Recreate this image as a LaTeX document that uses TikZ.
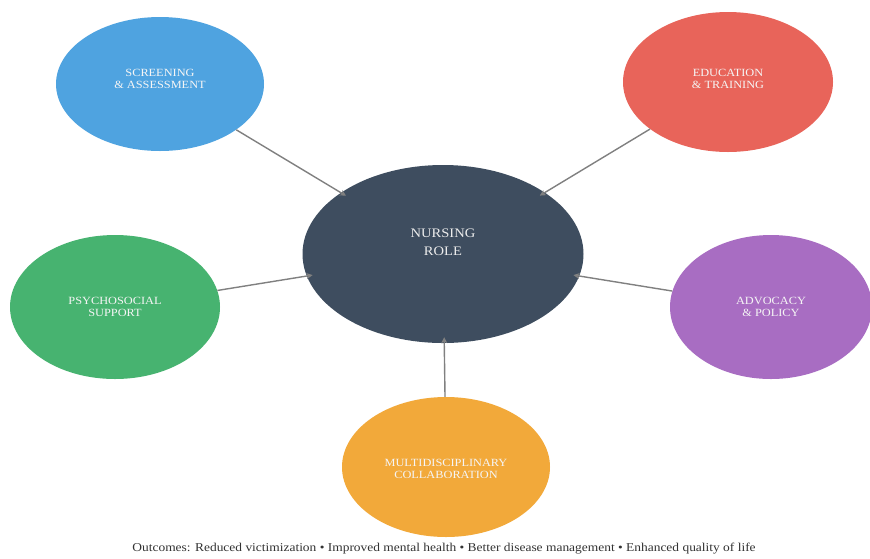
\documentclass[tikz,border=0pt]{standalone}
\usepackage{fontspec}
\setmainfont{Liberation Serif}
\newfontfamily\capfont[FakeStretch=1.12]{Liberation Serif}
\newfontfamily\lblfont[FakeStretch=1.12]{Liberation Serif}
\usetikzlibrary{shapes.geometric,arrows.meta}
\definecolor{cblue}{HTML}{4FA3E0}
\definecolor{cred}{HTML}{E8645A}
\definecolor{cslate}{HTML}{3E4D5F}
\definecolor{cgreen}{HTML}{47B370}
\definecolor{cpurple}{HTML}{A86DC2}
\definecolor{corange}{HTML}{F2A93A}
\definecolor{cline}{HTML}{808080}
\tikzset{
  bubble/.style={ellipse, inner sep=0pt},
  txt/.style={text=white!92!gray, align=center,
    font=\lblfont\fontsize{11}{12.5}\selectfont},
  hubtxt/.style={text=white!85!gray, align=center,
    font=\lblfont\fontsize{13}{18}\selectfont},
  hub/.style={ellipse, inner sep=0pt, fill=cslate, minimum width=281pt, minimum height=178pt},
  link/.style={draw=cline, line width=1.4pt, -{Stealth[length=6pt,width=6pt]}},
  caption/.style={font=\capfont\fontsize{12}{13}\selectfont, text=black!80}
}
\begin{document}
\begin{tikzpicture}[x=1pt,y=-1pt]
\useasboundingbox (0,0) rectangle (870,558);
\fill[white] (0,0) rectangle (870,558);
\node[hub, label={[hubtxt, yshift=12pt]center:{NURSING\\ROLE}}] (ctr) at (443,254) {};
\node[bubble, fill=cblue, minimum width=208pt, minimum height=134pt,
  label={[txt, yshift=5pt]center:{SCREENING\\\& ASSESSMENT}}] (scr) at (160,84) {};
\node[bubble, fill=cred, minimum width=210pt, minimum height=140pt,
  label={[txt, yshift=3pt]center:{EDUCATION\\\& TRAINING}}] (edu) at (728,82) {};
\node[bubble, fill=cgreen, minimum width=210pt, minimum height=144pt,
  label={[txt]center:{PSYCHOSOCIAL\\SUPPORT}}] (psy) at (115,307) {};
\node[bubble, fill=cpurple, minimum width=202pt, minimum height=144pt,
  label={[txt]center:{ADVOCACY\\\& POLICY}}] (adv) at (771,307) {};
\node[bubble, fill=corange, minimum width=208pt, minimum height=140pt,
  label={[txt, yshift=-2pt]center:{MULTIDISCIPLINARY\\COLLABORATION}}] (mul) at (446,467) {};
\draw[link, shorten >=-6pt] (scr) -- (ctr);
\draw[link, shorten >=-6pt] (edu) -- (ctr);
\draw[link, shorten >=-6pt] (psy) -- (ctr);
\draw[link, shorten >=-6pt] (adv) -- (ctr);
\draw[link, shorten >=-6pt] (mul) -- (ctr);
\node[caption] (cap) at (444,549) {Outcomes: Reduced victimization • Improved mental health • Better disease management • Enhanced quality of life};
\end{tikzpicture}
\end{document}
